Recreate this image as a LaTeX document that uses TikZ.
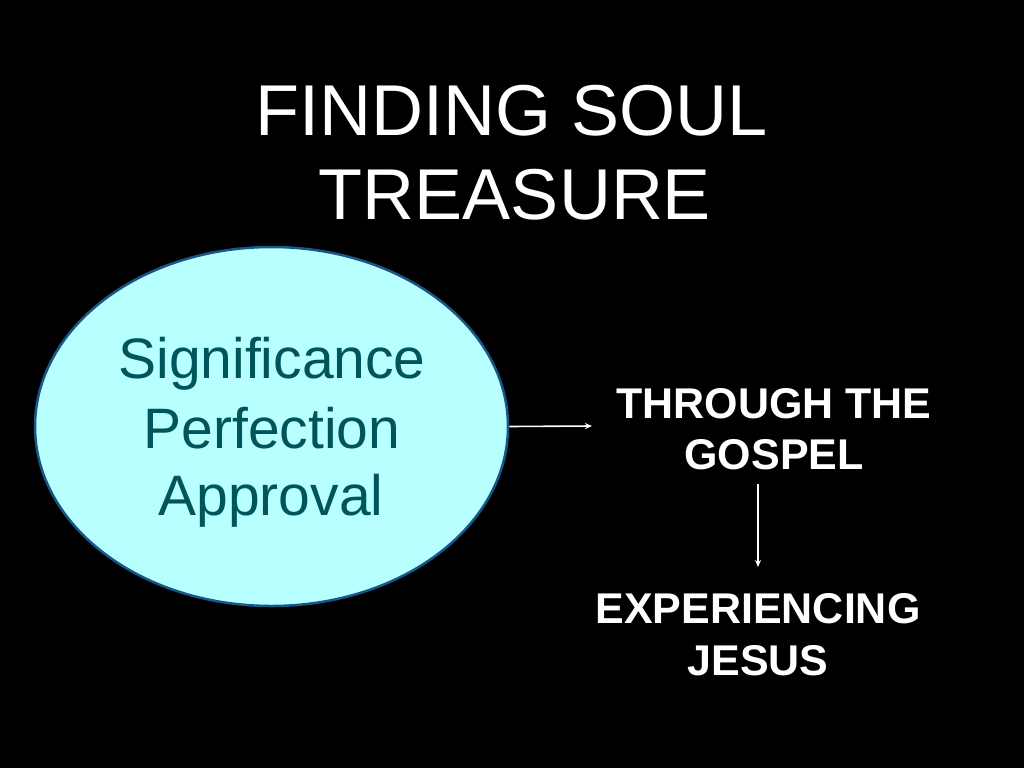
\documentclass[tikz,border=0pt]{standalone}
\usepackage{fontspec}
\setmainfont{Liberation Sans}
\usetikzlibrary{shapes.geometric,arrows.meta}
\definecolor{ellfill}{RGB}{184,255,255}
\definecolor{elldraw}{RGB}{25,85,135}
\definecolor{elltext}{RGB}{0,85,90}
\tikzset{
  x=1pt,y=-1pt,
  title/.style={anchor=base,inner sep=0pt,text=white,font=\fontsize{72}{86}\selectfont},
  ovaltext/.style={anchor=base,inner sep=0pt,text=elltext,font=\fontsize{57}{68}\selectfont},
  righttext/.style={anchor=base,inner sep=0pt,text=white,font=\fontsize{43}{52}\selectfont\bfseries},
  conn/.style={draw=white,line width=1.6pt,-{Stealth[length=7pt,width=6pt]}}
}
\begin{document}
\begin{tikzpicture}
\fill[black] (0,0) rectangle (1024,768);
\useasboundingbox (0,0) rectangle (1024,768);
\node[title] (t1) at (512,135) {FINDING SOUL};
\node[title] (t2) at (515,219) {TREASURE};
\node[ellipse,draw=elldraw,fill=ellfill,line width=2.5pt,minimum width=473pt,minimum height=359pt,inner sep=0pt] (ell) at (271.5,426.5) {};
\node[ovaltext] (s1) at (272,378) {Significance};
\node[ovaltext] (s2) at (272,448) {Perfection};
\node[ovaltext] (s3) at (271,515) {Approval};
\node[righttext] (g1) at (774,418) {THROUGH THE};
\node[righttext] (g2) at (774,469) {GOSPEL};
\node[righttext] (e1) at (758,623) {EXPERIENCING};
\node[righttext] (e2) at (758,675) {JESUS};
\coordinate (a1) at (592,426);
\coordinate (b0) at (758,484);
\coordinate (b1) at (758,567);
\draw[conn] (ell.east) -- (a1);
\draw[conn] (b0) -- (b1);
\end{tikzpicture}
\end{document}
